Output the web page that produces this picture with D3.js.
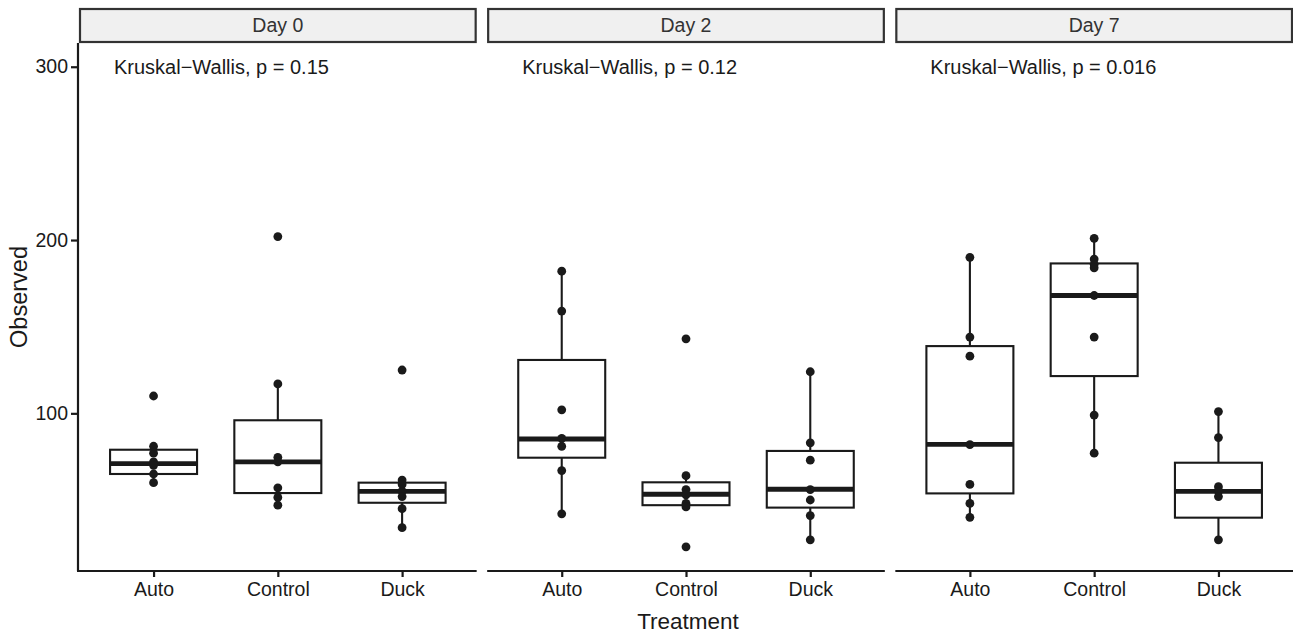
<!DOCTYPE html>
<html>
<head>
<meta charset="utf-8">
<script src="https://cdn.jsdelivr.net/npm/d3@7"></script>
<style>
    body { margin: 0; background: #fff; }
    text { font-family: "Liberation Sans", Arial, sans-serif; }
</style>
</head>
<body>
<script>
// chart values
const days = ["Day 0", "Day 2", "Day 7"];
const treatments = ["Auto", "Control", "Duck"];
const pValues = ["0.15", "0.12", "0.016"];
const yTicks = [100, 200, 300];

// observed values per treatment (Auto, Control, Duck)
const day0Points = [
    [110, 81, 77, 72, 70, 65, 60],
    [202, 117, 74.6, 72, 57, 51.5, 47],
    [125, 61.5, 59, 55, 52, 45, 34]
];
const day2Points = [
    [182, 159, 102, 85.5, 81, 67, 42],
    [143, 64, 56, 53, 48, 46, 23],
    [124, 83, 73, 56, 50, 41, 27]
];
const day7Points = [
    [190, 144, 133, 82, 59, 48, 40],
    [201, 189, 186, 184, 168, 144, 99, 77],
    [101, 86, 57.7, 55, 52, 27]
];

// box stats: [q1, median, q3, whisker low, whisker high]
const day0Boxes = [
    [65, 71, 79, 60, 81],
    [54, 72, 96, 47, 117],
    [48.4, 55, 60, 34, 61.5]
];
const day2Boxes = [
    [74.4, 85.2, 130.8, 42, 182],
    [47, 53.3, 60.2, 46, 64],
    [45.6, 56.2, 78.3, 27, 124]
];
const day7Boxes = [
    [53.8, 82.1, 138.8, 40, 190],
    [121.5, 168, 186.5, 77, 201],
    [39.8, 55, 71.5, 27, 101]
];

const allPoints = [day0Points, day2Points, day7Points];
const allBoxes = [day0Boxes, day2Boxes, day7Boxes];

// create svg canvas
const canvWidth = 1293, canvHeight = 636;
const svg = d3.select("body").append("svg")
    .attr("width", canvWidth)
    .attr("height", canvHeight);

const ink = "#1a1a1a";
const plotLeft = 79, plotRight = 1293;
const stripTop = 8, plotTop = 43, plotBottom = 570;
const gap = 10.5;
const panelWidth = (plotRight - plotLeft - 2 * gap) / 3;

const yScale = d3.scaleLinear()
    .domain([9.6, 313.7])
    .range([plotBottom, plotTop]);

// y axis on the first panel only
const yAxis = svg.append("g")
    .attr("transform", "translate(" + (plotLeft - 1) + ",0)")
    .call(d3.axisLeft(yScale).tickValues(yTicks).tickSize(7).tickPadding(3));
yAxis.select(".domain").attr("stroke", ink).attr("stroke-width", 2.2)
    .attr("d", "M0," + plotTop + "V" + (plotBottom + 1));
yAxis.selectAll(".tick line").attr("stroke", ink).attr("stroke-width", 2.2);
yAxis.selectAll(".tick text")
    .attr("fill", ink)
    .style("font-size", "19.5px")
    .style("font-family", "'Liberation Sans', Arial, sans-serif");

days.forEach(function (day, p) {
    const x0 = plotLeft + p * (panelWidth + gap);
    const xScale = d3.scalePoint()
        .domain(treatments)
        .range([x0, x0 + panelWidth])
        .padding(0.6);
    const boxW = xScale.step() * 0.7;

    // strip
    svg.append("rect")
        .attr("x", x0 + 1)
        .attr("y", stripTop + 1)
        .attr("width", panelWidth - 2)
        .attr("height", plotTop - stripTop - 2)
        .attr("fill", "#f0f0f0")
        .attr("stroke", "#333")
        .attr("stroke-width", 2.2);
    svg.append("text")
        .attr("x", x0 + panelWidth / 2)
        .attr("y", 32)
        .attr("text-anchor", "middle")
        .attr("fill", "#333")
        .style("font-size", "19.5px")
        .text(day);

    // x axis
    const xAxis = svg.append("g")
        .attr("transform", "translate(0," + (plotBottom + 1) + ")")
        .call(d3.axisBottom(xScale).tickSize(6).tickPadding(5).tickSizeOuter(0));
    xAxis.select(".domain").attr("stroke", ink).attr("stroke-width", 2.2)
        .attr("d", "M" + (x0 - (p === 0 ? 2 : 0)) + ",0H" + (x0 + panelWidth));
    xAxis.selectAll(".tick line").attr("stroke", ink).attr("stroke-width", 2.2);
    xAxis.selectAll(".tick text")
        .attr("fill", ink)
        .style("font-size", "19.5px")
        .style("font-family", "'Liberation Sans', Arial, sans-serif");

    const boxes = allBoxes[p];
    const points = allPoints[p];

    treatments.forEach(function (t, i) {
        const cx = xScale(t);
        const b = boxes[i];
        const g = svg.append("g");
        // whiskers
        g.append("line")
            .attr("x1", cx).attr("x2", cx)
            .attr("y1", yScale(b[2])).attr("y2", yScale(b[4]))
            .attr("stroke", ink).attr("stroke-width", 2.1);
        g.append("line")
            .attr("x1", cx).attr("x2", cx)
            .attr("y1", yScale(b[0])).attr("y2", yScale(b[3]))
            .attr("stroke", ink).attr("stroke-width", 2.1);
        // box
        g.append("rect")
            .attr("x", cx - boxW / 2)
            .attr("y", yScale(b[2]))
            .attr("width", boxW)
            .attr("height", yScale(b[0]) - yScale(b[2]))
            .attr("fill", "#fff")
            .attr("stroke", ink)
            .attr("stroke-width", 2.1);
        // median
        g.append("line")
            .attr("x1", cx - boxW / 2).attr("x2", cx + boxW / 2)
            .attr("y1", yScale(b[1])).attr("y2", yScale(b[1]))
            .attr("stroke", ink).attr("stroke-width", 4.8);
        // points
        g.selectAll("circle")
            .data(points[i])
            .join("circle")
            .attr("cx", cx)
            .attr("cy", d => yScale(d))
            .attr("r", 4.4)
            .attr("fill", ink);
    });

    // test label
    svg.append("text")
        .attr("x", x0 + 35)
        .attr("y", yScale(300))
        .attr("dy", "0.35em")
        .attr("fill", ink)
        .style("font-size", "20px")
        .text("Kruskal\u2212Wallis, p = " + pValues[p]);
});

// axis titles
svg.append("text")
    .attr("x", plotLeft + (plotRight - plotLeft) / 2 + 2)
    .attr("y", 629)
    .attr("text-anchor", "middle")
    .attr("fill", ink)
    .style("font-size", "22.5px")
    .text("Treatment");

svg.append("text")
    .attr("transform", "translate(27," + 297 + ") rotate(-90)")
    .attr("text-anchor", "middle")
    .attr("fill", ink)
    .style("font-size", "23.5px")
    .text("Observed");
</script>
</body>
</html>
